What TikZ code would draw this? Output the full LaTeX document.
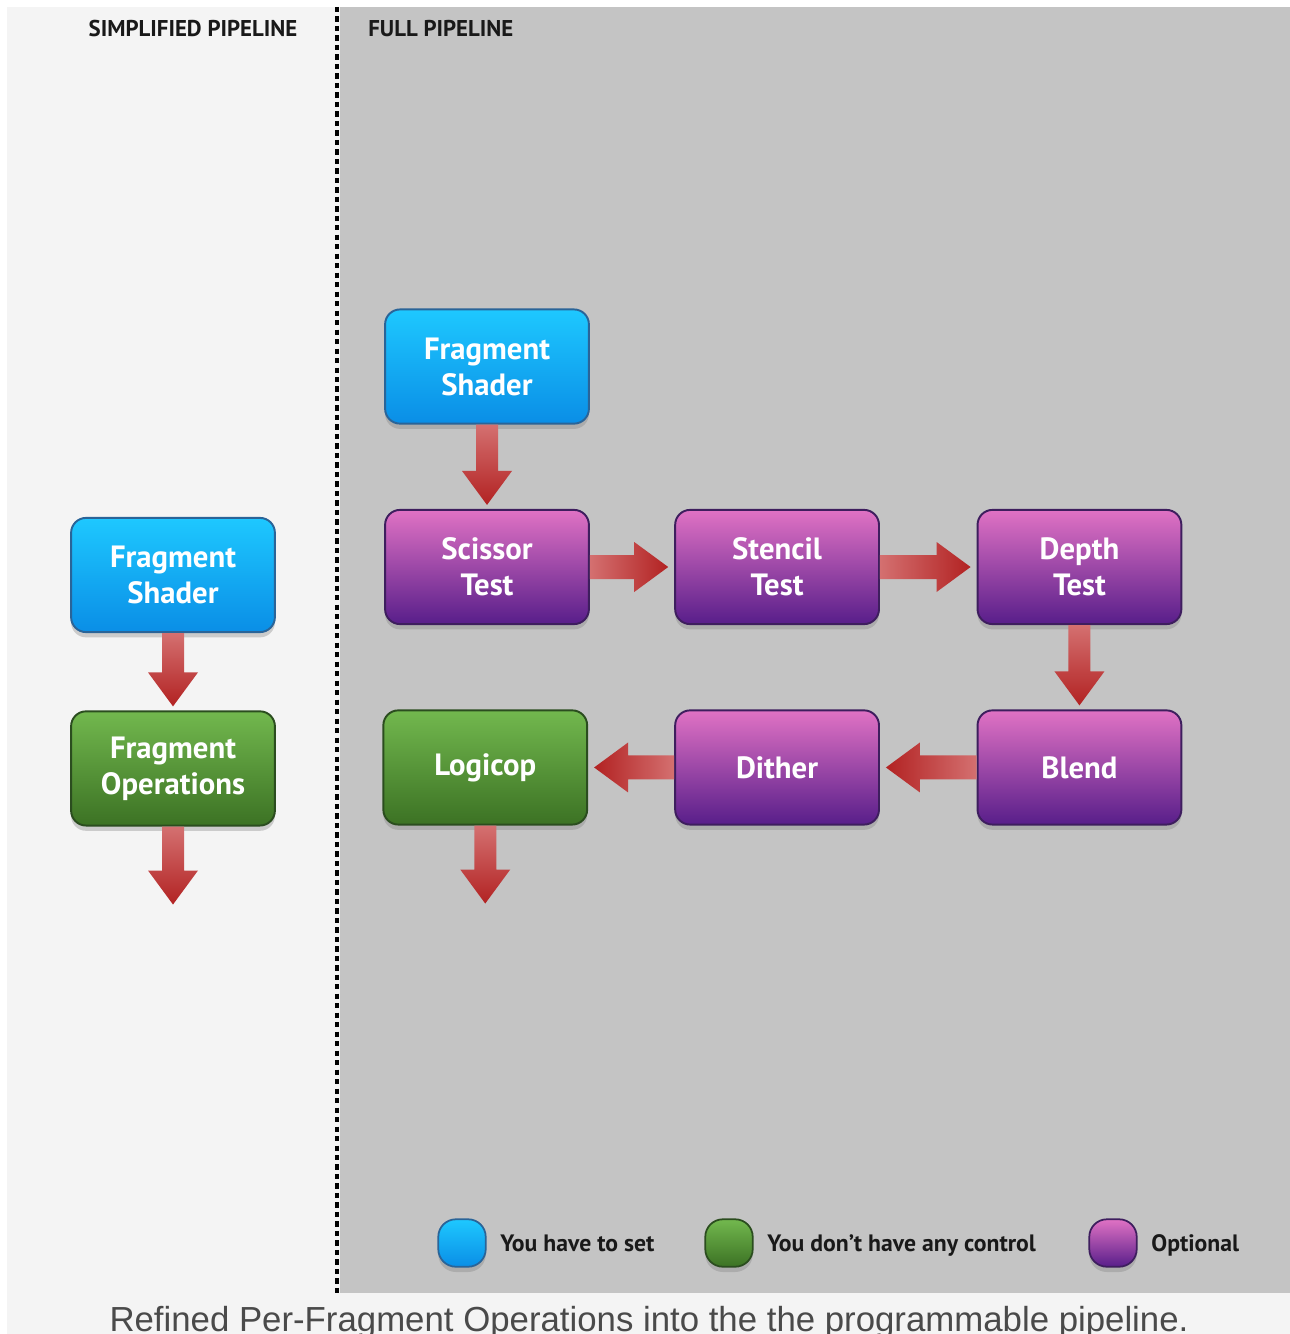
\documentclass[tikz,border=0pt]{standalone}
\usepackage{fontspec}
\setmainfont{PT Sans}
\newfontfamily\captionfont{Liberation Sans}
\usetikzlibrary{positioning}
\usetikzlibrary{calc}
\usetikzlibrary{shadows}

\definecolor{panellight}{HTML}{F4F4F4}
\definecolor{paneldark}{HTML}{C4C4C4}
\definecolor{bluetop}{HTML}{1EC8FF}
\definecolor{bluebot}{HTML}{0A8EE6}
\definecolor{blueline}{HTML}{2A6498}
\definecolor{purpletop}{HTML}{E072C4}
\definecolor{purplebot}{HTML}{581E8A}
\definecolor{purpleline}{HTML}{3E1E5E}
\definecolor{greentop}{HTML}{72B84E}
\definecolor{greenbot}{HTML}{3C7224}
\definecolor{greenline}{HTML}{2B4D1F}
\definecolor{redlight}{HTML}{D47070}
\definecolor{reddark}{HTML}{B22222}
\definecolor{captiongray}{HTML}{4A4A4A}

\begin{document}
\begin{tikzpicture}[x=0.02cm,y=-0.02cm,
  stage/.style={rectangle,rounded corners=8.5pt,draw,line width=1.1pt,
    minimum width=116pt,minimum height=65pt,align=center,text=white,
    font=\fontsize{17.5}{20.5}\selectfont\bfseries,
    drop shadow={opacity=0.35,shadow xshift=0pt,shadow yshift=-3pt}},
  must node/.style={stage,top color=bluetop,bottom color=bluebot,draw=blueline},
  fixed node/.style={stage,top color=greentop,bottom color=greenbot,draw=greenline},
  option node/.style={stage,top color=purpletop,bottom color=purplebot,draw=purpleline},
  key node/.style={rectangle,rounded corners=10pt,draw,line width=1pt,minimum size=27pt,
    drop shadow={opacity=0.35,shadow xshift=0pt,shadow yshift=-3pt}},
  key text/.style={anchor=base west,inner sep=0pt,font=\fontsize{13.5}{15}\selectfont\bfseries,text=black!90},
  title/.style={inner sep=0pt,font=\fontsize{13}{15}\selectfont\bfseries,text=black!90},
  fatdown/.style={to path={($(\tikztostart)+(-11,0)$) -- ($(\tikztotarget)+(-11,-38)$)
    -- ($(\tikztotarget)+(-25,-38)$) -- ($(\tikztotarget)+(0,-4)$) -- ($(\tikztotarget)+(25,-38)$)
    -- ($(\tikztotarget)+(11,-38)$) -- ($(\tikztostart)+(11,0)$) -- cycle}},
  fatright/.style={to path={($(\tikztostart)+(0,-12)$) -- ($(\tikztotarget)+(-40,-12)$)
    -- ($(\tikztotarget)+(-40,-25)$) -- ($(\tikztotarget)+(-6,0)$) -- ($(\tikztotarget)+(-40,25)$)
    -- ($(\tikztotarget)+(-40,12)$) -- ($(\tikztostart)+(0,12)$) -- cycle}},
  fatleft/.style={to path={($(\tikztostart)+(0,-12)$) -- ($(\tikztotarget)+(40,-12)$)
    -- ($(\tikztotarget)+(40,-25)$) -- ($(\tikztotarget)+(6,0)$) -- ($(\tikztotarget)+(40,25)$)
    -- ($(\tikztotarget)+(40,12)$) -- ($(\tikztostart)+(0,12)$) -- cycle}}]

  \useasboundingbox (0,0) rectangle (1290,1334);
  \clip (0,0) rectangle (1290,1334);

  % panels
  \fill[white] (0,0) rectangle (1290,1334);
  \fill[panellight] (7,7) rectangle (1290,1334);
  \fill[paneldark] (340,7) rectangle (1290,1293);
  \draw[line width=2.2pt,dash pattern=on 3pt off 2.4pt] (337,7) -- (337,1293);

  \node[title,anchor=base] (t1) at (193,37) {SIMPLIFIED PIPELINE};
  \node[title,anchor=base west] (t2) at (368,37) {FULL PIPELINE};

  % simplified
  \node[must node] (lfs) at (173,575) {Fragment\\Shader};
  \node[fixed node] (lfo) [below=44pt of lfs] {Fragment\\Operations};
  \coordinate (lout) at ($(lfo.south)+(0,82)$);

  % full
  \node[option node] (sc) at (487,567) {Scissor\\Test};
  \node[must node] (fs) [above=48pt of sc] {Fragment\\Shader};
  \node[option node] (st) [right=48pt of sc] {Stencil\\Test};
  \node[option node] (dp) [right=55pt of st] {Depth\\Test};
  \node[option node] (bl) [below=48pt of dp] {Blend};
  \node[option node] (di) [left=55pt of bl] {Dither};
  \node[fixed node] (lc) [left=49pt of di] {Logicop};
  \coordinate (out) at ($(lc.south)+(0,82)$);

  \shade[top color=redlight,bottom color=reddark] (lfs.south) to[fatdown] (lfo.north);
  \shade[top color=redlight,bottom color=reddark] (lfo.south) to[fatdown] (lout);
  \shade[top color=redlight,bottom color=reddark] (fs.south) to[fatdown] (sc.north);
  \shade[left color=redlight,right color=reddark] (sc.east) to[fatright] (st.west);
  \shade[left color=redlight,right color=reddark] (st.east) to[fatright] (dp.west);
  \shade[top color=redlight,bottom color=reddark] (dp.south) to[fatdown] (bl.north);
  \shade[right color=redlight,left color=reddark] (bl.west) to[fatleft] (di.east);
  \shade[right color=redlight,left color=reddark] (di.west) to[fatleft] (lc.east);
  \shade[top color=redlight,bottom color=reddark] (lc.south) to[fatdown] (out);

  % legend
  \node[key node,top color=bluetop,bottom color=bluebot,draw=blueline] (k1) at (462,1243) {};
  \node[key text] (k1t) at (500,1251) {You have to set};
  \node[key node,top color=greentop,bottom color=greenbot,draw=greenline] (k2) at (729,1243) {};
  \node[key text] (k2t) at (767,1251) {You don't have any control};
  \node[key node,top color=purpletop,bottom color=purplebot,draw=purpleline] (k3) at (1113,1243) {};
  \node[key text] (k3t) at (1151,1251) {Optional};

  \node[anchor=base,font=\captionfont\fontsize{19.8}{22}\selectfont,text=captiongray] (cap)
    at (649,1331) {Refined Per-Fragment Operations into the the programmable pipeline.};
\end{tikzpicture}
\end{document}
